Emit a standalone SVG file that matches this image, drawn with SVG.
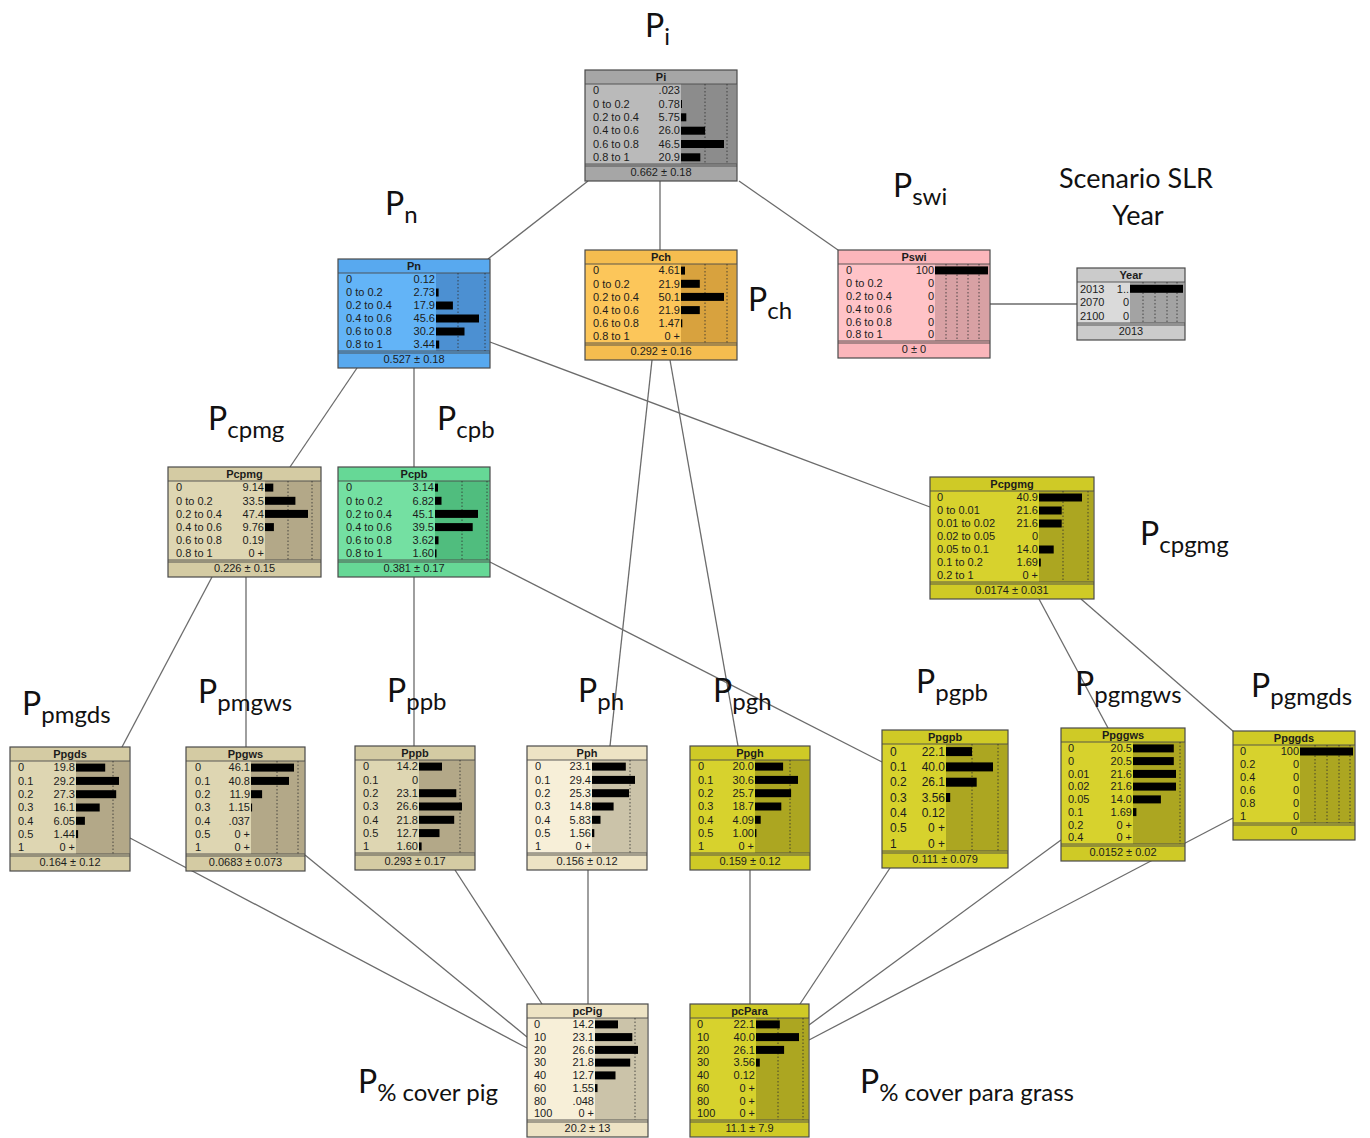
<svg xmlns="http://www.w3.org/2000/svg" width="1370" height="1138" viewBox="0 0 1370 1138">
<style>
  .edge{stroke:#6b6b6b;stroke-width:1.3;fill:none}
  .frame{fill:none;stroke:#4a4a4a;stroke-width:1.2}
  .sep{stroke:#4a4a4a;stroke-width:0.9;fill:none}
  .grid{stroke:#2e2e2e;stroke-width:0.8;stroke-dasharray:1.5 2;fill:none}
  .bar{fill:#000}
  .t{font-family:"Liberation Sans",Arial,sans-serif;font-size:11px;fill:#1c1c1c}
  .ttl{font-weight:bold;text-anchor:middle}
  .v{text-anchor:end}
  .ft{text-anchor:middle}
  .big{font-family:Lato,"Open Sans",sans-serif;fill:#111}
  .P{font-size:32px}
  .sub{font-size:24px}
  .cap{font-family:Lato,"Open Sans",sans-serif;font-size:27px;fill:#111;text-anchor:middle}
  .gray .bd{fill:#bababa} .gray .hd{fill:#a6a6a6} .gray .rg{fill:#8c8c8c}
  .blue .bd{fill:#63b4f7} .blue .hd{fill:#58a9ef} .blue .rg{fill:#4c90d2}
  .orange .bd{fill:#fcc65a} .orange .hd{fill:#f5bd4f} .orange .rg{fill:#d8a23e}
  .pink .bd{fill:#ffc3c7} .pink .hd{fill:#fbb6bb} .pink .rg{fill:#d8a1a4}
  .lgray .bd{fill:#dadada} .lgray .hd{fill:#cbcbcb} .lgray .rg{fill:#a3a3a3}
  .tan .bd{fill:#ded6b2} .tan .hd{fill:#d4cba3} .tan .rg{fill:#b3a888}
  .green .bd{fill:#74e0a2} .green .hd{fill:#66d896} .green .rg{fill:#50bd7e}
  .olive .bd{fill:#d7d22d} .olive .hd{fill:#cfca26} .olive .rg{fill:#aca621}
  .cream .bd{fill:#f7efd8} .cream .hd{fill:#ede3c4} .cream .rg{fill:#cbc3a9}
</style>
<rect width="1370" height="1138" fill="#ffffff"/>

<!-- links between nodes, drawn underneath the boxes -->
<g id="connectors">
  <line class="edge" x1="588" y1="181" x2="488" y2="259"/>
  <line class="edge" x1="660" y1="181" x2="660" y2="250"/>
  <line class="edge" x1="739" y1="181" x2="838" y2="250"/>
  <line class="edge" x1="990" y1="304" x2="1077" y2="304"/>
  <line class="edge" x1="357" y1="368" x2="290" y2="467"/>
  <line class="edge" x1="414" y1="368" x2="414" y2="467"/>
  <line class="edge" x1="490" y1="342" x2="930" y2="507"/>
  <line class="edge" x1="652" y1="360" x2="610" y2="746"/>
  <line class="edge" x1="670" y1="360" x2="738" y2="746"/>
  <line class="edge" x1="212" y1="577" x2="122" y2="747"/>
  <line class="edge" x1="246" y1="577" x2="246" y2="747"/>
  <line class="edge" x1="414" y1="577" x2="414" y2="746"/>
  <line class="edge" x1="490" y1="562" x2="882" y2="762"/>
  <line class="edge" x1="1039" y1="599" x2="1108" y2="728"/>
  <line class="edge" x1="1081" y1="599" x2="1234" y2="732"/>
  <line class="edge" x1="130" y1="838" x2="527" y2="1048"/>
  <line class="edge" x1="305" y1="855" x2="527" y2="1037"/>
  <line class="edge" x1="455" y1="870" x2="542" y2="1004"/>
  <line class="edge" x1="588" y1="870" x2="588" y2="1004"/>
  <line class="edge" x1="750" y1="870" x2="750" y2="1004"/>
  <line class="edge" x1="890" y1="868" x2="800" y2="1004"/>
  <line class="edge" x1="1061" y1="840" x2="809" y2="1025"/>
  <line class="edge" x1="1233" y1="818" x2="809" y2="1040"/>
</g>

<!-- Pi -->
<g id="node-Pi" class="gray" transform="translate(585,70)">
  <rect class="bd" width="152" height="111"/>
  <rect class="rg" x="96" y="14" width="55" height="80"/>
  <rect class="hd" width="152" height="14"/>
  <rect class="hd" y="94" width="152" height="17"/>
  <path class="sep" d="M0 14H152M0 94H152M0 96H152"/>
  <path class="grid" d="M120 14V94M142 14V94"/>
  <rect class="bar" x="96" y="30" width="1" height="8"/>
  <rect class="bar" x="96" y="43.3" width="5.3" height="8"/>
  <rect class="bar" x="96" y="56.7" width="24.1" height="8"/>
  <rect class="bar" x="96" y="70" width="43" height="8"/>
  <rect class="bar" x="96" y="83.3" width="19.3" height="8"/>
  <text class="t ttl" x="76" y="11">Pi</text>
  <text class="t"><tspan x="8" y="24.4">0</tspan><tspan x="8" y="37.7">0 to 0.2</tspan><tspan x="8" y="51">0.2 to 0.4</tspan><tspan x="8" y="64.4">0.4 to 0.6</tspan><tspan x="8" y="77.7">0.6 to 0.8</tspan><tspan x="8" y="91">0.8 to 1</tspan></text>
  <text class="t v"><tspan x="95" y="24.4">.023</tspan><tspan x="95" y="37.7">0.78</tspan><tspan x="95" y="51">5.75</tspan><tspan x="95" y="64.4">26.0</tspan><tspan x="95" y="77.7">46.5</tspan><tspan x="95" y="91">20.9</tspan></text>
  <text class="t ft" x="76" y="106">0.662 ± 0.18</text>
  <rect class="frame" width="152" height="111"/>
</g>

<!-- Pn -->
<g id="node-Pn" class="blue" transform="translate(338,259)">
  <rect class="bd" width="152" height="109"/>
  <rect class="rg" x="98" y="14" width="53" height="78"/>
  <rect class="hd" width="152" height="14"/>
  <rect class="hd" y="92" width="152" height="17"/>
  <path class="sep" d="M0 14H152M0 92H152M0 94H152"/>
  <path class="grid" d="M120 14V92M147 14V92"/>
  <rect class="bar" x="98" y="29.5" width="2.6" height="8"/>
  <rect class="bar" x="98" y="42.5" width="16.9" height="8"/>
  <rect class="bar" x="98" y="55.5" width="43" height="8"/>
  <rect class="bar" x="98" y="68.5" width="28.5" height="8"/>
  <rect class="bar" x="98" y="81.5" width="3.2" height="8"/>
  <text class="t ttl" x="76" y="11">Pn</text>
  <text class="t"><tspan x="8" y="24.2">0</tspan><tspan x="8" y="37.2">0 to 0.2</tspan><tspan x="8" y="50.2">0.2 to 0.4</tspan><tspan x="8" y="63.2">0.4 to 0.6</tspan><tspan x="8" y="76.2">0.6 to 0.8</tspan><tspan x="8" y="89.2">0.8 to 1</tspan></text>
  <text class="t v"><tspan x="97" y="24.2">0.12</tspan><tspan x="97" y="37.2">2.73</tspan><tspan x="97" y="50.2">17.9</tspan><tspan x="97" y="63.2">45.6</tspan><tspan x="97" y="76.2">30.2</tspan><tspan x="97" y="89.2">3.44</tspan></text>
  <text class="t ft" x="76" y="104">0.527 ± 0.18</text>
  <rect class="frame" width="152" height="109"/>
</g>

<!-- Pch -->
<g id="node-Pch" class="orange" transform="translate(585,250)">
  <rect class="bd" width="152" height="110"/>
  <rect class="rg" x="96" y="14" width="55" height="79"/>
  <rect class="hd" width="152" height="14"/>
  <rect class="hd" y="93" width="152" height="17"/>
  <path class="sep" d="M0 14H152M0 93H152M0 95H152"/>
  <path class="grid" d="M120 14V93M142 14V93"/>
  <rect class="bar" x="96" y="16.6" width="4" height="8"/>
  <rect class="bar" x="96" y="29.8" width="18.8" height="8"/>
  <rect class="bar" x="96" y="42.9" width="43" height="8"/>
  <rect class="bar" x="96" y="56.1" width="18.8" height="8"/>
  <rect class="bar" x="96" y="69.3" width="1.3" height="8"/>
  <text class="t ttl" x="76" y="11">Pch</text>
  <text class="t"><tspan x="8" y="24.3">0</tspan><tspan x="8" y="37.5">0 to 0.2</tspan><tspan x="8" y="50.6">0.2 to 0.4</tspan><tspan x="8" y="63.8">0.4 to 0.6</tspan><tspan x="8" y="77">0.6 to 0.8</tspan><tspan x="8" y="90.1">0.8 to 1</tspan></text>
  <text class="t v"><tspan x="95" y="24.3">4.61</tspan><tspan x="95" y="37.5">21.9</tspan><tspan x="95" y="50.6">50.1</tspan><tspan x="95" y="63.8">21.9</tspan><tspan x="95" y="77">1.47</tspan><tspan x="95" y="90.1">0 +</tspan></text>
  <text class="t ft" x="76" y="105">0.292 ± 0.16</text>
  <rect class="frame" width="152" height="110"/>
</g>

<!-- Pswi -->
<g id="node-Pswi" class="pink" transform="translate(838,250)">
  <rect class="bd" width="152" height="108"/>
  <rect class="rg" x="97" y="14" width="54" height="77"/>
  <rect class="hd" width="152" height="14"/>
  <rect class="hd" y="91" width="152" height="17"/>
  <path class="sep" d="M0 14H152M0 91H152M0 93H152"/>
  <path class="grid" d="M108 14V91M119 14V91M130 14V91M141 14V91"/>
  <rect class="bar" x="97" y="16.4" width="53" height="8"/>
  <text class="t ttl" x="76" y="11">Pswi</text>
  <text class="t"><tspan x="8" y="24.1">0</tspan><tspan x="8" y="37">0 to 0.2</tspan><tspan x="8" y="49.8">0.2 to 0.4</tspan><tspan x="8" y="62.6">0.4 to 0.6</tspan><tspan x="8" y="75.5">0.6 to 0.8</tspan><tspan x="8" y="88.3">0.8 to 1</tspan></text>
  <text class="t v"><tspan x="96" y="24.1">100</tspan><tspan x="96" y="37">0</tspan><tspan x="96" y="49.8">0</tspan><tspan x="96" y="62.6">0</tspan><tspan x="96" y="75.5">0</tspan><tspan x="96" y="88.3">0</tspan></text>
  <text class="t ft" x="76" y="103">0 ± 0</text>
  <rect class="frame" width="152" height="108"/>
</g>

<!-- Year -->
<g id="node-Year" class="lgray" transform="translate(1077,268)">
  <rect class="bd" width="108" height="72"/>
  <rect class="rg" x="53" y="14" width="54" height="41"/>
  <rect class="hd" width="108" height="14"/>
  <rect class="hd" y="55" width="108" height="17"/>
  <path class="sep" d="M0 14H108M0 55H108M0 57H108"/>
  <path class="grid" d="M66 14V55M78 14V55M90 14V55M100 14V55"/>
  <rect class="bar" x="53" y="16.8" width="53" height="8"/>
  <text class="t ttl" x="54" y="11">Year</text>
  <text class="t"><tspan x="3" y="24.5">2013</tspan><tspan x="3" y="38.2">2070</tspan><tspan x="3" y="51.9">2100</tspan></text>
  <text class="t v"><tspan x="52" y="24.5">1..</tspan><tspan x="52" y="38.2">0</tspan><tspan x="52" y="51.9">0</tspan></text>
  <text class="t ft" x="54" y="67">2013</text>
  <rect class="frame" width="108" height="72"/>
</g>

<!-- Pcpmg -->
<g id="node-Pcpmg" class="tan" transform="translate(168,467)">
  <rect class="bd" width="153" height="110"/>
  <rect class="rg" x="97" y="14" width="55" height="79"/>
  <rect class="hd" width="153" height="14"/>
  <rect class="hd" y="93" width="153" height="17"/>
  <path class="sep" d="M0 14H153M0 93H153M0 95H153"/>
  <path class="grid" d="M120 14V93M144 14V93"/>
  <rect class="bar" x="97" y="16.6" width="8.3" height="8"/>
  <rect class="bar" x="97" y="29.8" width="30.4" height="8"/>
  <rect class="bar" x="97" y="42.9" width="43" height="8"/>
  <rect class="bar" x="97" y="56.1" width="8.9" height="8"/>
  <text class="t ttl" x="76.5" y="11">Pcpmg</text>
  <text class="t"><tspan x="8" y="24.3">0</tspan><tspan x="8" y="37.5">0 to 0.2</tspan><tspan x="8" y="50.6">0.2 to 0.4</tspan><tspan x="8" y="63.8">0.4 to 0.6</tspan><tspan x="8" y="77">0.6 to 0.8</tspan><tspan x="8" y="90.1">0.8 to 1</tspan></text>
  <text class="t v"><tspan x="96" y="24.3">9.14</tspan><tspan x="96" y="37.5">33.5</tspan><tspan x="96" y="50.6">47.4</tspan><tspan x="96" y="63.8">9.76</tspan><tspan x="96" y="77">0.19</tspan><tspan x="96" y="90.1">0 +</tspan></text>
  <text class="t ft" x="76.5" y="105">0.226 ± 0.15</text>
  <rect class="frame" width="153" height="110"/>
</g>

<!-- Pcpb -->
<g id="node-Pcpb" class="green" transform="translate(338,467)">
  <rect class="bd" width="152" height="110"/>
  <rect class="rg" x="97" y="14" width="54" height="79"/>
  <rect class="hd" width="152" height="14"/>
  <rect class="hd" y="93" width="152" height="17"/>
  <path class="sep" d="M0 14H152M0 93H152M0 95H152"/>
  <path class="grid" d="M124 14V93M149 14V93"/>
  <rect class="bar" x="97" y="16.6" width="3" height="8"/>
  <rect class="bar" x="97" y="29.8" width="6.5" height="8"/>
  <rect class="bar" x="97" y="42.9" width="43" height="8"/>
  <rect class="bar" x="97" y="56.1" width="37.7" height="8"/>
  <rect class="bar" x="97" y="69.3" width="3.5" height="8"/>
  <rect class="bar" x="97" y="82.4" width="1.5" height="8"/>
  <text class="t ttl" x="76" y="11">Pcpb</text>
  <text class="t"><tspan x="8" y="24.3">0</tspan><tspan x="8" y="37.5">0 to 0.2</tspan><tspan x="8" y="50.6">0.2 to 0.4</tspan><tspan x="8" y="63.8">0.4 to 0.6</tspan><tspan x="8" y="77">0.6 to 0.8</tspan><tspan x="8" y="90.1">0.8 to 1</tspan></text>
  <text class="t v"><tspan x="96" y="24.3">3.14</tspan><tspan x="96" y="37.5">6.82</tspan><tspan x="96" y="50.6">45.1</tspan><tspan x="96" y="63.8">39.5</tspan><tspan x="96" y="77">3.62</tspan><tspan x="96" y="90.1">1.60</tspan></text>
  <text class="t ft" x="76" y="105">0.381 ± 0.17</text>
  <rect class="frame" width="152" height="110"/>
</g>

<!-- Pcpgmg -->
<g id="node-Pcpgmg" class="olive" transform="translate(930,477)">
  <rect class="bd" width="164" height="122"/>
  <rect class="rg" x="109" y="14" width="54" height="91"/>
  <rect class="hd" width="164" height="14"/>
  <rect class="hd" y="105" width="164" height="17"/>
  <path class="sep" d="M0 14H164M0 105H164M0 107H164"/>
  <path class="grid" d="M133 14V105M158 14V105"/>
  <rect class="bar" x="109" y="16.5" width="43" height="8"/>
  <rect class="bar" x="109" y="29.5" width="22.7" height="8"/>
  <rect class="bar" x="109" y="42.5" width="22.7" height="8"/>
  <rect class="bar" x="109" y="68.5" width="14.7" height="8"/>
  <rect class="bar" x="109" y="81.5" width="1.8" height="8"/>
  <text class="t ttl" x="82" y="11">Pcpgmg</text>
  <text class="t"><tspan x="7" y="24.2">0</tspan><tspan x="7" y="37.2">0 to 0.01</tspan><tspan x="7" y="50.2">0.01 to 0.02</tspan><tspan x="7" y="63.2">0.02 to 0.05</tspan><tspan x="7" y="76.2">0.05 to 0.1</tspan><tspan x="7" y="89.2">0.1 to 0.2</tspan><tspan x="7" y="102.2">0.2 to 1</tspan></text>
  <text class="t v"><tspan x="108" y="24.2">40.9</tspan><tspan x="108" y="37.2">21.6</tspan><tspan x="108" y="50.2">21.6</tspan><tspan x="108" y="63.2">0</tspan><tspan x="108" y="76.2">14.0</tspan><tspan x="108" y="89.2">1.69</tspan><tspan x="108" y="102.2">0 +</tspan></text>
  <text class="t ft" x="82" y="117">0.0174 ± 0.031</text>
  <rect class="frame" width="164" height="122"/>
</g>

<!-- Ppgds -->
<g id="node-Ppgds" class="tan" transform="translate(10,747)">
  <rect class="bd" width="120" height="124"/>
  <rect class="rg" x="66" y="14" width="53" height="93"/>
  <rect class="hd" width="120" height="14"/>
  <rect class="hd" y="107" width="120" height="17"/>
  <path class="sep" d="M0 14H120M0 107H120M0 109H120"/>
  <path class="grid" d="M103 14V107"/>
  <rect class="bar" x="66" y="16.6" width="29.2" height="8"/>
  <rect class="bar" x="66" y="29.9" width="43" height="8"/>
  <rect class="bar" x="66" y="43.2" width="40.2" height="8"/>
  <rect class="bar" x="66" y="56.5" width="23.7" height="8"/>
  <rect class="bar" x="66" y="69.8" width="8.9" height="8"/>
  <rect class="bar" x="66" y="83.1" width="2.1" height="8"/>
  <text class="t ttl" x="60" y="11">Ppgds</text>
  <text class="t"><tspan x="8" y="24.3">0</tspan><tspan x="8" y="37.6">0.1</tspan><tspan x="8" y="50.9">0.2</tspan><tspan x="8" y="64.2">0.3</tspan><tspan x="8" y="77.5">0.4</tspan><tspan x="8" y="90.8">0.5</tspan><tspan x="8" y="104.1">1</tspan></text>
  <text class="t v"><tspan x="65" y="24.3">19.8</tspan><tspan x="65" y="37.6">29.2</tspan><tspan x="65" y="50.9">27.3</tspan><tspan x="65" y="64.2">16.1</tspan><tspan x="65" y="77.5">6.05</tspan><tspan x="65" y="90.8">1.44</tspan><tspan x="65" y="104.1">0 +</tspan></text>
  <text class="t ft" x="60" y="119">0.164 ± 0.12</text>
  <rect class="frame" width="120" height="124"/>
</g>

<!-- Ppgws -->
<g id="node-Ppgws" class="tan" transform="translate(186,747)">
  <rect class="bd" width="119" height="124"/>
  <rect class="rg" x="65" y="14" width="53" height="93"/>
  <rect class="hd" width="119" height="14"/>
  <rect class="hd" y="107" width="119" height="17"/>
  <path class="sep" d="M0 14H119M0 107H119M0 109H119"/>
  <path class="grid" d="M91 14V107M112 14V107"/>
  <rect class="bar" x="65" y="16.6" width="43" height="8"/>
  <rect class="bar" x="65" y="29.9" width="38" height="8"/>
  <rect class="bar" x="65" y="43.2" width="11.1" height="8"/>
  <rect class="bar" x="65" y="56.5" width="1.1" height="8"/>
  <text class="t ttl" x="59.5" y="11">Ppgws</text>
  <text class="t"><tspan x="9" y="24.3">0</tspan><tspan x="9" y="37.6">0.1</tspan><tspan x="9" y="50.9">0.2</tspan><tspan x="9" y="64.2">0.3</tspan><tspan x="9" y="77.5">0.4</tspan><tspan x="9" y="90.8">0.5</tspan><tspan x="9" y="104.1">1</tspan></text>
  <text class="t v"><tspan x="64" y="24.3">46.1</tspan><tspan x="64" y="37.6">40.8</tspan><tspan x="64" y="50.9">11.9</tspan><tspan x="64" y="64.2">1.15</tspan><tspan x="64" y="77.5">.037</tspan><tspan x="64" y="90.8">0 +</tspan><tspan x="64" y="104.1">0 +</tspan></text>
  <text class="t ft" x="59.5" y="119">0.0683 ± 0.073</text>
  <rect class="frame" width="119" height="124"/>
</g>

<!-- Pppb -->
<g id="node-Pppb" class="tan" transform="translate(355,746)">
  <rect class="bd" width="120" height="124"/>
  <rect class="rg" x="64" y="14" width="55" height="93"/>
  <rect class="hd" width="120" height="14"/>
  <rect class="hd" y="107" width="120" height="17"/>
  <path class="sep" d="M0 14H120M0 107H120M0 109H120"/>
  <path class="grid" d="M105 14V107"/>
  <rect class="bar" x="64" y="16.6" width="23" height="8"/>
  <rect class="bar" x="64" y="43.2" width="37.3" height="8"/>
  <rect class="bar" x="64" y="56.5" width="43" height="8"/>
  <rect class="bar" x="64" y="69.8" width="35.2" height="8"/>
  <rect class="bar" x="64" y="83.1" width="20.5" height="8"/>
  <rect class="bar" x="64" y="96.4" width="2.6" height="8"/>
  <text class="t ttl" x="60" y="11">Pppb</text>
  <text class="t"><tspan x="8" y="24.3">0</tspan><tspan x="8" y="37.6">0.1</tspan><tspan x="8" y="50.9">0.2</tspan><tspan x="8" y="64.2">0.3</tspan><tspan x="8" y="77.5">0.4</tspan><tspan x="8" y="90.8">0.5</tspan><tspan x="8" y="104.1">1</tspan></text>
  <text class="t v"><tspan x="63" y="24.3">14.2</tspan><tspan x="63" y="37.6">0</tspan><tspan x="63" y="50.9">23.1</tspan><tspan x="63" y="64.2">26.6</tspan><tspan x="63" y="77.5">21.8</tspan><tspan x="63" y="90.8">12.7</tspan><tspan x="63" y="104.1">1.60</tspan></text>
  <text class="t ft" x="60" y="119">0.293 ± 0.17</text>
  <rect class="frame" width="120" height="124"/>
</g>

<!-- Pph -->
<g id="node-Pph" class="cream" transform="translate(527,746)">
  <rect class="bd" width="120" height="124"/>
  <rect class="rg" x="65" y="14" width="54" height="93"/>
  <rect class="hd" width="120" height="14"/>
  <rect class="hd" y="107" width="120" height="17"/>
  <path class="sep" d="M0 14H120M0 107H120M0 109H120"/>
  <path class="grid" d="M103 14V107"/>
  <rect class="bar" x="65" y="16.6" width="33.8" height="8"/>
  <rect class="bar" x="65" y="29.9" width="43" height="8"/>
  <rect class="bar" x="65" y="43.2" width="37" height="8"/>
  <rect class="bar" x="65" y="56.5" width="21.6" height="8"/>
  <rect class="bar" x="65" y="69.8" width="8.5" height="8"/>
  <rect class="bar" x="65" y="83.1" width="2.3" height="8"/>
  <text class="t ttl" x="60" y="11">Pph</text>
  <text class="t"><tspan x="8" y="24.3">0</tspan><tspan x="8" y="37.6">0.1</tspan><tspan x="8" y="50.9">0.2</tspan><tspan x="8" y="64.2">0.3</tspan><tspan x="8" y="77.5">0.4</tspan><tspan x="8" y="90.8">0.5</tspan><tspan x="8" y="104.1">1</tspan></text>
  <text class="t v"><tspan x="64" y="24.3">23.1</tspan><tspan x="64" y="37.6">29.4</tspan><tspan x="64" y="50.9">25.3</tspan><tspan x="64" y="64.2">14.8</tspan><tspan x="64" y="77.5">5.83</tspan><tspan x="64" y="90.8">1.56</tspan><tspan x="64" y="104.1">0 +</tspan></text>
  <text class="t ft" x="60" y="119">0.156 ± 0.12</text>
  <rect class="frame" width="120" height="124"/>
</g>

<!-- Ppgh -->
<g id="node-Ppgh" class="olive" transform="translate(690,746)">
  <rect class="bd" width="120" height="124"/>
  <rect class="rg" x="65" y="14" width="54" height="93"/>
  <rect class="hd" width="120" height="14"/>
  <rect class="hd" y="107" width="120" height="17"/>
  <path class="sep" d="M0 14H120M0 107H120M0 109H120"/>
  <path class="grid" d="M100 14V107"/>
  <rect class="bar" x="65" y="16.6" width="28.1" height="8"/>
  <rect class="bar" x="65" y="29.9" width="43" height="8"/>
  <rect class="bar" x="65" y="43.2" width="36.1" height="8"/>
  <rect class="bar" x="65" y="56.5" width="26.3" height="8"/>
  <rect class="bar" x="65" y="69.8" width="5.7" height="8"/>
  <rect class="bar" x="65" y="83.1" width="1.4" height="8"/>
  <text class="t ttl" x="60" y="11">Ppgh</text>
  <text class="t"><tspan x="8" y="24.3">0</tspan><tspan x="8" y="37.6">0.1</tspan><tspan x="8" y="50.9">0.2</tspan><tspan x="8" y="64.2">0.3</tspan><tspan x="8" y="77.5">0.4</tspan><tspan x="8" y="90.8">0.5</tspan><tspan x="8" y="104.1">1</tspan></text>
  <text class="t v"><tspan x="64" y="24.3">20.0</tspan><tspan x="64" y="37.6">30.6</tspan><tspan x="64" y="50.9">25.7</tspan><tspan x="64" y="64.2">18.7</tspan><tspan x="64" y="77.5">4.09</tspan><tspan x="64" y="90.8">1.00</tspan><tspan x="64" y="104.1">0 +</tspan></text>
  <text class="t ft" x="60" y="119">0.159 ± 0.12</text>
  <rect class="frame" width="120" height="124"/>
</g>

<!-- Ppgpb -->
<g id="node-Ppgpb" class="olive" transform="translate(882,730)">
  <rect class="bd" width="126" height="138"/>
  <rect class="rg" x="64" y="14" width="61" height="107"/>
  <rect class="hd" width="126" height="14"/>
  <rect class="hd" y="121" width="126" height="17"/>
  <path class="sep" d="M0 14H126M0 121H126M0 123H126"/>
  <path class="grid" d="M90 14V121M116 14V121"/>
  <rect class="bar" x="64" y="17.1" width="26" height="9"/>
  <rect class="bar" x="64" y="32.4" width="47" height="9"/>
  <rect class="bar" x="64" y="47.7" width="30.7" height="9"/>
  <rect class="bar" x="64" y="63" width="4.2" height="9"/>
  <text class="t ttl" x="63" y="11">Ppgpb</text>
  <text class="t" style="font-size:12px"><tspan x="8" y="25.8">0</tspan><tspan x="8" y="41.1">0.1</tspan><tspan x="8" y="56.4">0.2</tspan><tspan x="8" y="71.7">0.3</tspan><tspan x="8" y="87">0.4</tspan><tspan x="8" y="102.3">0.5</tspan><tspan x="8" y="117.6">1</tspan></text>
  <text class="t v" style="font-size:12px"><tspan x="63" y="25.8">22.1</tspan><tspan x="63" y="41.1">40.0</tspan><tspan x="63" y="56.4">26.1</tspan><tspan x="63" y="71.7">3.56</tspan><tspan x="63" y="87">0.12</tspan><tspan x="63" y="102.3">0 +</tspan><tspan x="63" y="117.6">0 +</tspan></text>
  <text class="t ft" x="63" y="133">0.111 ± 0.079</text>
  <rect class="frame" width="126" height="138"/>
</g>

<!-- Ppggws -->
<g id="node-Ppggws" class="olive" transform="translate(1061,728)">
  <rect class="bd" width="124" height="133"/>
  <rect class="rg" x="72" y="14" width="51" height="102"/>
  <rect class="hd" width="124" height="14"/>
  <rect class="hd" y="116" width="124" height="17"/>
  <path class="sep" d="M0 14H124M0 116H124M0 118H124"/>
  <path class="grid" d="M119 14V116"/>
  <rect class="bar" x="72" y="16.4" width="40.8" height="8"/>
  <rect class="bar" x="72" y="29.1" width="40.8" height="8"/>
  <rect class="bar" x="72" y="41.9" width="43" height="8"/>
  <rect class="bar" x="72" y="54.6" width="43" height="8"/>
  <rect class="bar" x="72" y="67.4" width="27.9" height="8"/>
  <rect class="bar" x="72" y="80.1" width="3.4" height="8"/>
  <text class="t ttl" x="62" y="11">Ppggws</text>
  <text class="t"><tspan x="7" y="24.1">0</tspan><tspan x="7" y="36.8">0</tspan><tspan x="7" y="49.6">0.01</tspan><tspan x="7" y="62.3">0.02</tspan><tspan x="7" y="75.1">0.05</tspan><tspan x="7" y="87.8">0.1</tspan><tspan x="7" y="100.6">0.2</tspan><tspan x="7" y="113.3">0.4</tspan></text>
  <text class="t v"><tspan x="71" y="24.1">20.5</tspan><tspan x="71" y="36.8">20.5</tspan><tspan x="71" y="49.6">21.6</tspan><tspan x="71" y="62.3">21.6</tspan><tspan x="71" y="75.1">14.0</tspan><tspan x="71" y="87.8">1.69</tspan><tspan x="71" y="100.6">0 +</tspan><tspan x="71" y="113.3">0 +</tspan></text>
  <text class="t ft" x="62" y="128">0.0152 ± 0.02</text>
  <rect class="frame" width="124" height="133"/>
</g>

<!-- Ppggds -->
<g id="node-Ppggds" class="olive" transform="translate(1233,731)">
  <rect class="bd" width="122" height="109"/>
  <rect class="rg" x="67" y="14" width="54" height="78"/>
  <rect class="hd" width="122" height="14"/>
  <rect class="hd" y="92" width="122" height="17"/>
  <path class="sep" d="M0 14H122M0 92H122M0 94H122"/>
  <path class="grid" d="M82 14V92M94 14V92M106 14V92M117 14V92"/>
  <rect class="bar" x="67" y="16.5" width="53" height="8"/>
  <text class="t ttl" x="61" y="11">Ppggds</text>
  <text class="t"><tspan x="7" y="24.2">0</tspan><tspan x="7" y="37.2">0.2</tspan><tspan x="7" y="50.2">0.4</tspan><tspan x="7" y="63.2">0.6</tspan><tspan x="7" y="76.2">0.8</tspan><tspan x="7" y="89.2">1</tspan></text>
  <text class="t v"><tspan x="66" y="24.2">100</tspan><tspan x="66" y="37.2">0</tspan><tspan x="66" y="50.2">0</tspan><tspan x="66" y="63.2">0</tspan><tspan x="66" y="76.2">0</tspan><tspan x="66" y="89.2">0</tspan></text>
  <text class="t ft" x="61" y="104">0</text>
  <rect class="frame" width="122" height="109"/>
</g>

<!-- pcPig -->
<g id="node-pcPig" class="cream" transform="translate(527,1004)">
  <rect class="bd" width="121" height="133"/>
  <rect class="rg" x="68" y="14" width="52" height="102"/>
  <rect class="hd" width="121" height="14"/>
  <rect class="hd" y="116" width="121" height="17"/>
  <path class="sep" d="M0 14H121M0 116H121M0 118H121"/>
  <path class="grid" d="M108 14V116"/>
  <rect class="bar" x="68" y="16.4" width="23" height="8"/>
  <rect class="bar" x="68" y="29.1" width="37.3" height="8"/>
  <rect class="bar" x="68" y="41.9" width="43" height="8"/>
  <rect class="bar" x="68" y="54.6" width="35.2" height="8"/>
  <rect class="bar" x="68" y="67.4" width="20.5" height="8"/>
  <rect class="bar" x="68" y="80.1" width="2.5" height="8"/>
  <text class="t ttl" x="60.5" y="11">pcPig</text>
  <text class="t"><tspan x="7" y="24.1">0</tspan><tspan x="7" y="36.8">10</tspan><tspan x="7" y="49.6">20</tspan><tspan x="7" y="62.3">30</tspan><tspan x="7" y="75.1">40</tspan><tspan x="7" y="87.8">60</tspan><tspan x="7" y="100.6">80</tspan><tspan x="7" y="113.3">100</tspan></text>
  <text class="t v"><tspan x="67" y="24.1">14.2</tspan><tspan x="67" y="36.8">23.1</tspan><tspan x="67" y="49.6">26.6</tspan><tspan x="67" y="62.3">21.8</tspan><tspan x="67" y="75.1">12.7</tspan><tspan x="67" y="87.8">1.55</tspan><tspan x="67" y="100.6">.048</tspan><tspan x="67" y="113.3">0 +</tspan></text>
  <text class="t ft" x="60.5" y="128">20.2 ± 13</text>
  <rect class="frame" width="121" height="133"/>
</g>

<!-- pcPara -->
<g id="node-pcPara" class="olive" transform="translate(690,1004)">
  <rect class="bd" width="119" height="133"/>
  <rect class="rg" x="66" y="14" width="52" height="102"/>
  <rect class="hd" width="119" height="14"/>
  <rect class="hd" y="116" width="119" height="17"/>
  <path class="sep" d="M0 14H119M0 116H119M0 118H119"/>
  <path class="grid" d="M88 14V116M113 14V116"/>
  <rect class="bar" x="66" y="16.4" width="23.8" height="8"/>
  <rect class="bar" x="66" y="29.1" width="43" height="8"/>
  <rect class="bar" x="66" y="41.9" width="28.1" height="8"/>
  <rect class="bar" x="66" y="54.6" width="3.8" height="8"/>
  <text class="t ttl" x="59.5" y="11">pcPara</text>
  <text class="t"><tspan x="7" y="24.1">0</tspan><tspan x="7" y="36.8">10</tspan><tspan x="7" y="49.6">20</tspan><tspan x="7" y="62.3">30</tspan><tspan x="7" y="75.1">40</tspan><tspan x="7" y="87.8">60</tspan><tspan x="7" y="100.6">80</tspan><tspan x="7" y="113.3">100</tspan></text>
  <text class="t v"><tspan x="65" y="24.1">22.1</tspan><tspan x="65" y="36.8">40.0</tspan><tspan x="65" y="49.6">26.1</tspan><tspan x="65" y="62.3">3.56</tspan><tspan x="65" y="75.1">0.12</tspan><tspan x="65" y="87.8">0 +</tspan><tspan x="65" y="100.6">0 +</tspan><tspan x="65" y="113.3">0 +</tspan></text>
  <text class="t ft" x="59.5" y="128">11.1 ± 7.9</text>
  <rect class="frame" width="119" height="133"/>
</g>

<!-- variable captions -->
<g id="captions">
  <text class="big" x="645" y="37"><tspan class="P">P</tspan><tspan class="sub" dy="8">i</tspan></text>
  <text class="big" x="385" y="215"><tspan class="P">P</tspan><tspan class="sub" dy="8">n</tspan></text>
  <text class="big" x="893" y="197"><tspan class="P">P</tspan><tspan class="sub" dy="8">swi</tspan></text>
  <text class="cap" x="1136" y="188">Scenario SLR</text>
  <text class="cap" x="1138" y="225">Year</text>
  <text class="big" x="748" y="311"><tspan class="P">P</tspan><tspan class="sub" dy="8">ch</tspan></text>
  <text class="big" x="208" y="430"><tspan class="P">P</tspan><tspan class="sub" dy="8">cpmg</tspan></text>
  <text class="big" x="437" y="430"><tspan class="P">P</tspan><tspan class="sub" dy="8">cpb</tspan></text>
  <text class="big" x="1140" y="545"><tspan class="P">P</tspan><tspan class="sub" dy="8">cpgmg</tspan></text>
  <text class="big" x="22" y="715"><tspan class="P">P</tspan><tspan class="sub" dy="8">pmgds</tspan></text>
  <text class="big" x="198" y="703"><tspan class="P">P</tspan><tspan class="sub" dy="8">pmgws</tspan></text>
  <text class="big" x="387" y="702"><tspan class="P">P</tspan><tspan class="sub" dy="8">ppb</tspan></text>
  <text class="big" x="578" y="702"><tspan class="P">P</tspan><tspan class="sub" dy="8">ph</tspan></text>
  <text class="big" x="713" y="702"><tspan class="P">P</tspan><tspan class="sub" dy="8">pgh</tspan></text>
  <text class="big" x="916" y="693"><tspan class="P">P</tspan><tspan class="sub" dy="8">pgpb</tspan></text>
  <text class="big" x="1075" y="695"><tspan class="P">P</tspan><tspan class="sub" dy="8">pgmgws</tspan></text>
  <text class="big" x="1251" y="697"><tspan class="P">P</tspan><tspan class="sub" dy="8">pgmgds</tspan></text>
  <text class="big" x="358" y="1093"><tspan class="P">P</tspan><tspan class="sub" dy="8">% cover pig</tspan></text>
  <text class="big" x="860" y="1093"><tspan class="P">P</tspan><tspan class="sub" dy="8">% cover para grass</tspan></text>
</g>
</svg>
